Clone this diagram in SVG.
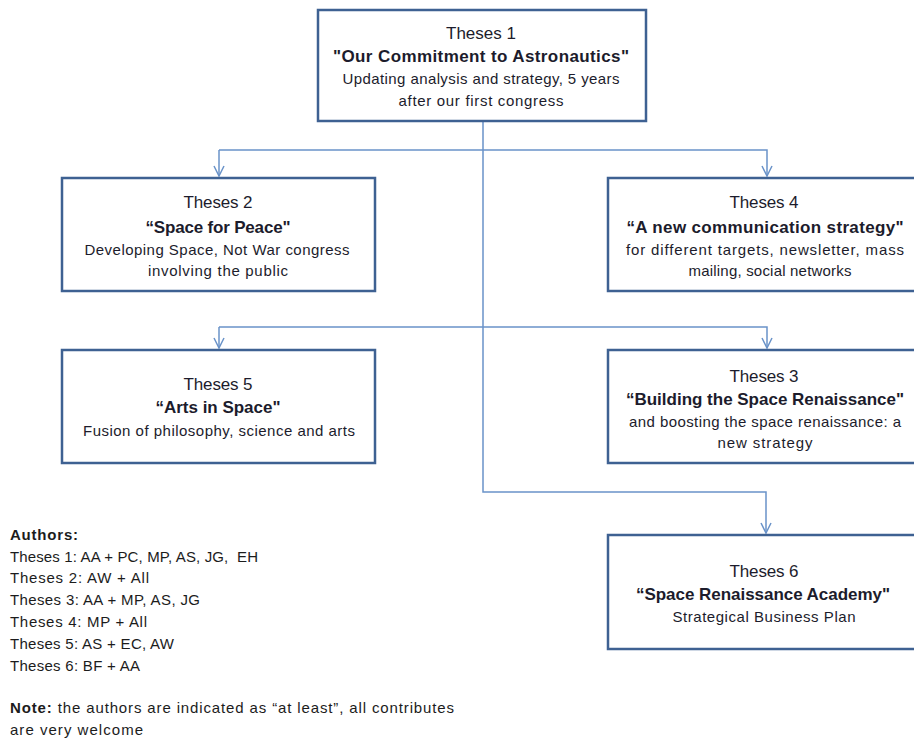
<svg xmlns="http://www.w3.org/2000/svg" width="914" height="740" viewBox="0 0 914 740">
<defs>
<style>
.box{fill:#ffffff;stroke:#3e6192;stroke-width:2.5}
.con{fill:none;stroke:#6a93c9;stroke-width:1.5}
.t{font-family:"Liberation Sans",Arial,sans-serif;fill:#1c1c2c;text-anchor:middle}
.h{font-size:17px}
.b{font-size:17px;font-weight:bold}
.s{font-size:15px}
.a{font-family:"Liberation Sans",Arial,sans-serif;fill:#1c1c1c;font-size:15px}
.ab{font-weight:bold}
</style>
<marker id="arr" viewBox="0 0 12 12" refX="11" refY="6" markerWidth="12" markerHeight="12" markerUnits="userSpaceOnUse" orient="auto">
<path d="M1,1 L11,6 L1,11" fill="none" stroke="#6a93c9" stroke-width="1.5"/>
</marker>
</defs>
<rect width="914" height="740" fill="#ffffff"/>
<g id="connectors">
<path class="con" d="M483,121 V492 H766 V533" marker-end="url(#arr)"/>
<path class="con" d="M219,150 H767 V176" marker-end="url(#arr)"/>
<path class="con" d="M219,150 V176" marker-end="url(#arr)"/>
<path class="con" d="M219,327 H767 V348" marker-end="url(#arr)"/>
<path class="con" d="M219,327 V348" marker-end="url(#arr)"/>
</g>
<g id="n1">
<rect class="box" x="318" y="10" width="328" height="111"/>
<text class="t h" x="481" y="39" textLength="70">Theses 1</text>
<text class="t b" x="481" y="62" textLength="296">"Our Commitment to Astronautics"</text>
<text class="t s" x="481" y="84" textLength="277">Updating analysis and strategy, 5 years</text>
<text class="t s" x="481" y="106" textLength="165">after our first congress</text>
</g>
<g id="n2">
<rect class="box" x="62" y="178" width="313" height="113"/>
<text class="t h" x="218" y="208" textLength="69">Theses 2</text>
<text class="t b" x="218" y="233" textLength="145">“Space for Peace"</text>
<text class="t s" x="217" y="255" textLength="265">Developing Space, Not War congress</text>
<text class="t s" x="218" y="276" textLength="140">involving the public</text>
</g>
<g id="n4">
<rect class="box" x="608" y="178" width="330" height="113"/>
<text class="t h" x="764" y="208" textLength="69">Theses 4</text>
<text class="t b" x="765" y="233" textLength="277">“A new communication strategy"</text>
<text class="t s" x="765" y="255" textLength="278">for different targets, newsletter, mass</text>
<text class="t s" x="770" y="276" textLength="163">mailing, social networks</text>
</g>
<g id="n5">
<rect class="box" x="62" y="350" width="313" height="113"/>
<text class="t h" x="218" y="390" textLength="69">Theses 5</text>
<text class="t b" x="218" y="413" textLength="125">“Arts in Space"</text>
<text class="t s" x="219" y="436" textLength="272">Fusion of philosophy, science and arts</text>
</g>
<g id="n3">
<rect class="box" x="608" y="350" width="330" height="113"/>
<text class="t h" x="764" y="382" textLength="69">Theses 3</text>
<text class="t b" x="765" y="405" textLength="278">“Building the Space Renaissance"</text>
<text class="t s" x="765" y="427" textLength="272">and boosting the space renaissance: a</text>
<text class="t s" x="765" y="448" textLength="95">new strategy</text>
</g>
<g id="n6">
<rect class="box" x="608" y="535" width="330" height="114"/>
<text class="t h" x="764" y="577" textLength="69">Theses 6</text>
<text class="t b" x="763" y="600" textLength="254">“Space Renaissance Academy"</text>
<text class="t s" x="764" y="622" textLength="183">Strategical Business Plan</text>
</g>
<g id="authors">
<text class="a ab" x="10" y="540" textLength="68">Authors:</text>
<text class="a" x="10" y="562" textLength="248">Theses 1: AA + PC, MP, AS, JG,&#160; EH</text>
<text class="a" x="10" y="583" textLength="139">Theses 2: AW + All</text>
<text class="a" x="10" y="605" textLength="190">Theses 3: AA + MP, AS, JG</text>
<text class="a" x="10" y="627" textLength="137">Theses 4: MP + All</text>
<text class="a" x="10" y="649" textLength="164">Theses 5: AS + EC, AW</text>
<text class="a" x="10" y="671" textLength="130">Theses 6: BF + AA</text>
<text class="a" x="10" y="713" textLength="444"><tspan class="ab">Note:</tspan> the authors are indicated as “at least”, all contributes</text>
<text class="a" x="10" y="735" textLength="133">are very welcome</text>
</g>
</svg>
